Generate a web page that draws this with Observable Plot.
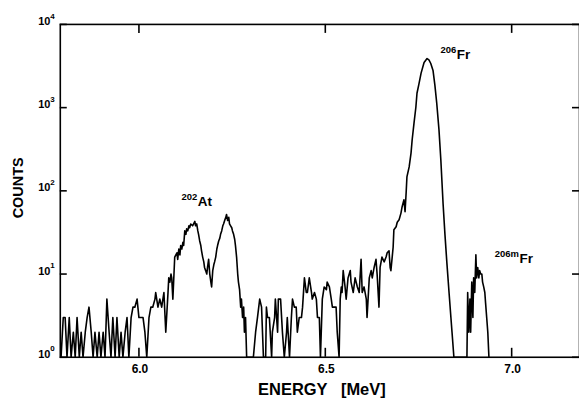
<!DOCTYPE html>
<html><head><meta charset="utf-8">
<script src="https://cdn.jsdelivr.net/npm/d3@7"></script>
<script src="https://cdn.jsdelivr.net/npm/@observablehq/plot@0.6"></script>
<style>
html,body{margin:0;padding:0;overflow:hidden;background:#fff;width:579px;height:399px}
#chart svg{display:block}
</style></head>
<body><div id="chart"></div>
<script>
// Alpha spectrum: energy (MeV) and counts per channel
const energy = [
5.791,5.797,5.802,5.807,5.813,5.818,5.824,5.829,5.834,5.840,5.845,5.850,5.856,5.861,5.866,5.872,5.877,5.882,5.888,5.893,5.898,5.904,5.909,5.914,5.920,5.925,5.930,5.936,5.941,5.947,5.952,5.957,5.963,5.968,5.973,5.979,5.984,5.989,5.995,6.000,6.005,6.011,6.016,6.021,
6.027,6.032,6.037,6.043,6.045,6.051,6.056,6.061,6.067,6.072,6.078,
6.080,6.083,6.086,6.088,6.091,6.094,6.096,
6.102,6.104,6.107,6.110,6.112,6.115,6.118,6.120,6.123,6.126,6.128,6.131,6.134,6.136,6.139,
6.144,
6.150,6.152,6.155,6.158,6.160,6.163,6.166,6.168,6.171,6.174,6.176,6.179,6.182,6.184,6.187,6.190,6.193,6.195,6.198,6.201,6.203,6.206,6.209,6.211,6.214,6.217,6.219,6.222,6.225,6.227,6.230,6.233,6.235,6.238,6.241,6.243,6.246,6.249,6.251,6.254,6.257,6.259,6.262,6.265,6.267,6.270,6.273,6.275,6.278,6.281,6.283,6.286,6.289,
6.291,6.299,6.307,6.313,6.318,6.324,6.329,6.334,6.340,6.342,6.345,6.350,6.356,6.358,6.364,6.366,6.372,6.374,6.380,6.385,6.390,6.396,6.398,6.404,6.409,6.412,6.417,6.422,6.425,6.430,
6.436,6.439,6.444,6.449,6.452,6.457,6.463,6.465,6.471,6.476,6.479,6.484,6.487,6.492,6.497,6.503,6.505,6.511,6.516,6.519,6.524,6.529,6.532,6.537,6.540,6.543,6.545,6.548,6.553,6.556,6.561,6.567,6.569,6.575,6.580,6.586,
6.591,6.596,6.599,6.604,6.610,6.612,6.618,6.623,6.626,6.631,6.636,6.639,6.644,6.647,6.652,6.658,6.663,6.666,6.671,6.674,6.676,6.682,6.684,6.690,6.693,6.698,6.703,6.706,6.711,6.714,6.717,6.719,6.725,6.730,6.733,6.738,6.743,6.746,6.751,6.757,6.765,6.773,6.778,6.783,6.789,6.794,6.799,6.805,6.810,6.816,6.821,6.826,6.832,6.837,6.840,6.845,
6.880,6.882,6.885,6.888,6.890,6.893,6.896,6.898,6.901,6.904,6.906,6.909,6.912,6.914,6.917,6.920,6.922,6.925,6.928,6.930,6.933,6.936,6.939
];
const counts = [
0,3,3,0,3,0,2,0,3,0,2,0,2,3,4,2,0,2,0,2,0,2,0,5,2,0,3,0,3,0,2,0,2,3,0,3,4,4,5,3,3,3,2,0,
3,4,4,5,6,4,5,4,6,2,6,
9,8,10,9,5,10,16,
18,15,20,17,22,20,24,22,33,30,35,33,38,36,40,
38,
43,38,40,33,30,25,22,19,16,14,12,11,10,12,15,10,8,7,11,13,14,16,20,22,25,27,30,33,38,40,44,48,52,44,48,40,38,36,33,30,26,22,16,10,8,6.5,4,5,3,4,2,3,0,
0,0,1,2,3,5,4,0,0,4,3,3,0,2,3,5,2,5,5,2,0,2,3,0,3,5,4,4,2,3,
3,4,9,6,6,9,6,5,6,5,3,3,0,5,7,6.5,8,7,5,4,4,4,2,0,5,7,6,11,7,5,9,11,8,6,9,7,
6,15,6,7,5,3,9,11,9,12,15,10,4,12,16,14,16,18,19,12,11,21,34,37,42,45,54,64,78,56,97,147,194,284,408,650,1010,1490,1900,2600,3490,3890,3750,3390,2800,1860,1130,540,235,70,30,14,6,3,2,0,
0,6,2,5,2,8,3,9,6,17,9,12,9,11,10,10,8,7,6,4.5,3,2,0
];

const xTicks = [6.0, 6.5, 7.0];
const yTicks = [1, 10, 100, 1000, 10000];

// Peak annotations: nuclide symbol, mass number, anchor energy & counts
const peakSymbol = ["At", "Fr", "Fr"];
const peakMass = ["202", "206", "206m"];
const peakEnergy = [6.158, 6.853, 7.021];
const peakCounts = [66, 3890, 13.7];

const spectrum = energy.map((e, i) => ({energy: e, counts: counts[i]}));
const peaks = peakSymbol.map((s, i) => ({symbol: s, mass: peakMass[i], energy: peakEnergy[i], counts: peakCounts[i]}));

const font = "'Liberation Sans', Arial, Helvetica, sans-serif";
const W = 581, H = 399, ML = 60, MR = 0, MT = 24, MB = 41;
const frameW = W - ML - MR, frameH = H - MT - MB;
const xTickLen = 9, yTickLen = 7;

const chart = Plot.plot({
  width: W,
  height: H,
  marginLeft: ML,
  marginRight: MR,
  marginTop: MT,
  marginBottom: MB,
  style: {fontFamily: font, color: "black", background: "white", overflow: "hidden"},
  x: {domain: [5.789, 7.182], axis: null},
  y: {type: "log", domain: [1, 10000], axis: null},
  marks: [
    Plot.line(spectrum, {x: "energy", y: d => Math.max(d.counts, 1), stroke: "black", strokeWidth: 1.6, strokeLinejoin: "round"}),
    Plot.frame({stroke: "black", strokeWidth: 1.6}),
    // inward ticks on all four sides
    Plot.tickX(xTicks, {x: d => d, insetTop: frameH - xTickLen, stroke: "black", strokeWidth: 1.6}),
    Plot.tickX(xTicks, {x: d => d, insetBottom: frameH - xTickLen, stroke: "black", strokeWidth: 1.6}),
    Plot.tickY(yTicks, {y: d => d, insetRight: frameW - yTickLen, stroke: "black", strokeWidth: 1.6}),
    Plot.tickY(yTicks, {y: d => d, insetLeft: frameW - yTickLen, stroke: "black", strokeWidth: 1.6}),
    // tick labels
    Plot.text(xTicks, {x: d => d, text: d => d3.format(".1f")(d), frameAnchor: "bottom", textAnchor: "middle", lineAnchor: "top", dx: 1, dy: 7, fontSize: 12, fontWeight: "bold"}),
    Plot.text(yTicks, {y: d => d, text: () => "10", frameAnchor: "left", textAnchor: "end", dx: -10, dy: -3, fontSize: 11, fontWeight: "bold"}),
    Plot.text(yTicks, {y: d => d, text: d => String(Math.round(Math.log10(d))), frameAnchor: "left", textAnchor: "start", dx: -10, dy: -8.5, fontSize: 8, fontWeight: "bold"}),
    // peak labels
    Plot.text(peaks, {x: "energy", y: "counts", text: "symbol", textAnchor: "start", lineAnchor: "bottom", fontSize: 13.5, fontWeight: "bold"}),
    Plot.text(peaks, {x: "energy", y: "counts", text: "mass", textAnchor: "end", lineAnchor: "bottom", dx: -0.5, dy: -6, fontSize: 9.5, fontWeight: "bold"}),
    // axis titles
    Plot.text(["COUNTS"], {frameAnchor: "left", textAnchor: "middle", rotate: -90, dx: -42, dy: -3, fontSize: 14.5, fontWeight: "bold"}),
    Plot.text(["ENERGY   [MeV]"], {frameAnchor: "bottom", textAnchor: "middle", lineAnchor: "bottom", dx: 2, dy: 38, fontSize: 16.5, fontWeight: "bold"})
  ]
});
document.getElementById("chart").appendChild(chart);
</script>
</body></html>
